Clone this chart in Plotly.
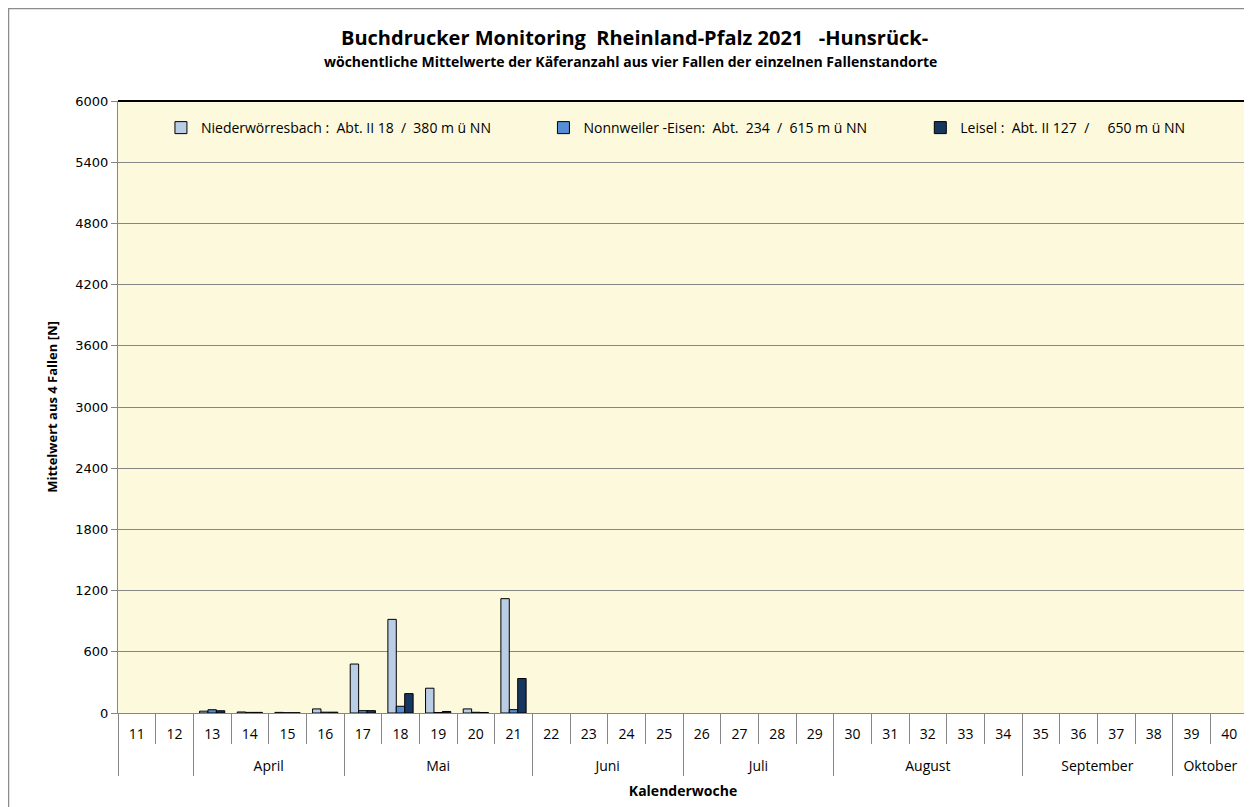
import plotly.graph_objects as go

weeks = [str(w) for w in range(11, 41)]
months = ([" "] * 2 + ["April"] * 4 + ["Mai"] * 5 + ["Juni"] * 4 + ["Juli"] * 4 +
          ["August"] * 5 + ["September"] * 4 + ["Oktober"] * 2)

niederwoerresbach = [None, None, 18, 10, 6, 40, 480, 918, 243, 40, 1121] + [None] * 19
nonnweiler = [None, None, 32, 6, 3, 8, 23, 66, 5, 7, 33] + [None] * 19
leisel = [None, None, 22, 6, 3, 8, 23, 190, 15, 5, 338] + [None] * 19

series_names = [
    "Niederwörresbach :  Abt. II 18  /  380 m ü NN",
    "Nonnweiler -Eisen:  Abt.  234  /  615 m ü NN",
    "Leisel :  Abt. II 127  /     650 m ü NN",
]
series_values = [niederwoerresbach, nonnweiler, leisel]
colors = ["#B9CDE5", "#558ED5", "#17375E"]

FONT = "'Open Sans', sans-serif"

# two-line inner labels push the month row further down
week_labels = [w + "<br><span style='font-size:18px'>&nbsp;</span>" for w in weeks]

legend_ids = ["legend", "legend2", "legend3"]
legend_x = [0.038, 0.3765, 0.71]

fig = go.Figure()
for name, vals, col, lid in zip(series_names, series_values, colors, legend_ids):
    fig.add_trace(go.Bar(
        x=[months, week_labels], y=vals, name=name, legend=lid,
        marker=dict(color=col, line=dict(color="#000000", width=1)),
    ))

legend_common = dict(orientation="h", y=0.982, xanchor="left", yanchor="top",
                     bgcolor="rgba(0,0,0,0)", font=dict(family=FONT, size=14),
                     itemwidth=30)

fig.update_layout(
    width=1244, height=799,
    margin=dict(l=110, r=4, t=93, b=94),
    paper_bgcolor="white",
    plot_bgcolor="#FDF9DC",
    barmode="group", bargap=0.33, bargroupgap=0,
    font=dict(family=FONT, size=13, color="#000000"),
    showlegend=True,
    legend=dict(x=legend_x[0], **legend_common),
    legend2=dict(x=legend_x[1], **legend_common),
    legend3=dict(x=legend_x[2], **legend_common),
    yaxis=dict(
        range=[0, 6000], dtick=600, tick0=0,
        showgrid=True, gridcolor="#868686", gridwidth=1,
        showline=True, linecolor="#868686", linewidth=1,
        ticks="outside", ticklen=6, tickcolor="#868686",
        tickfont=dict(family="'DejaVu Sans', Verdana, sans-serif", size=13),
        zeroline=False,
        title=dict(text="<b>Mittelwert aus 4 Fallen [N]</b>", font=dict(family=FONT, size=13), standoff=14),
    ),
    xaxis=dict(
        type="multicategory",
        showline=True, linecolor="#868686", linewidth=1,
        ticks="outside", tickson="boundaries", ticklen=30, tickcolor="#868686",
        showdividers=True, dividercolor="#868686", dividerwidth=1,
        tickfont=dict(family=FONT, size=14),
        ticklabelstandoff=8,
        showgrid=False,
        title=dict(text="<b>Kalenderwoche</b>", font=dict(family=FONT, size=14), standoff=12),
    ),
)

# plot-area border (top and right dark)
fig.add_shape(type="line", xref="paper", yref="paper", x0=0, x1=1, y0=1, y1=1,
              line=dict(color="#000000", width=2), layer="above")
fig.add_shape(type="line", xref="paper", yref="paper", x0=1, x1=1, y0=0, y1=1,
              line=dict(color="#000000", width=2), layer="above")
# outer chart frame
fig.add_shape(type="rect", xref="paper", yref="paper",
              x0=-109.5 / 1130, x1=1.05, y0=-0.3, y1=1 + 92.5 / 612,
              line=dict(color="#8C8C8C", width=1.5), layer="above")

fig.add_annotation(text="<b>Buchdrucker Monitoring  Rheinland-Pfalz 2021   -Hunsrück-</b>",
                   xref="paper", yref="paper", x=(634 - 118) / 1130, y=1 + (101 - 38) / 612,
                   xanchor="center", yanchor="middle", showarrow=False,
                   font=dict(family=FONT, size=20))
fig.add_annotation(text="<b>wöchentliche Mittelwerte der Käferanzahl aus vier Fallen der einzelnen Fallenstandorte</b>",
                   xref="paper", yref="paper", x=(630 - 118) / 1130, y=1 + (101 - 61) / 612,
                   xanchor="center", yanchor="middle", showarrow=False,
                   font=dict(family=FONT, size=14))

fig.write_html("out.html")
